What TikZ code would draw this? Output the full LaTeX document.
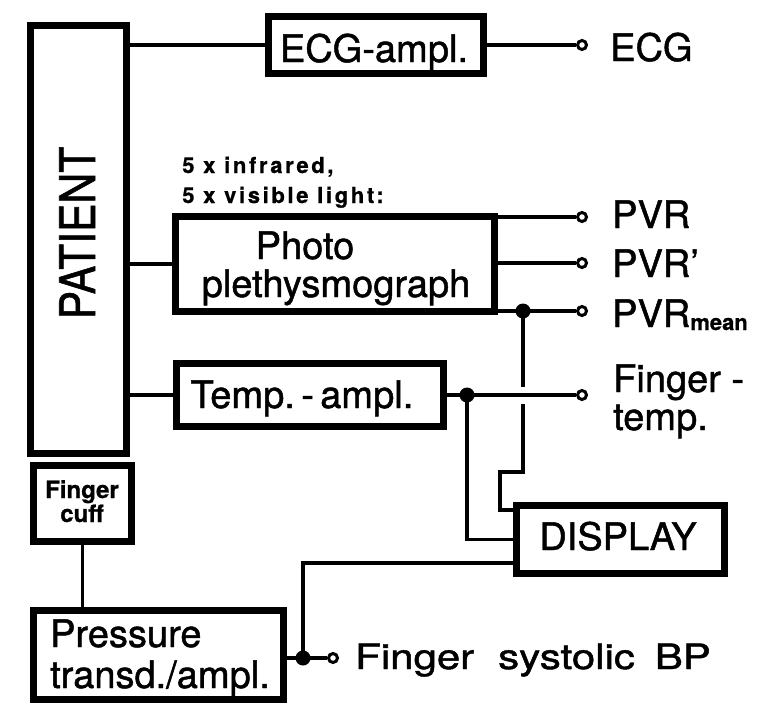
\documentclass[tikz,border=0pt]{standalone}
\usepackage{fontspec}
\setmainfont{TeX Gyre Heros}
\newfontfamily\medfont{TeX Gyre Heros}[FakeBold=1.2]
\newfontfamily\spacedbold{TeX Gyre Heros Bold}[LetterSpace=12,FakeBold=0.8]
\newfontfamily\heavybold{TeX Gyre Heros Bold}[FakeBold=0.8]
\begin{document}
\begin{tikzpicture}[x=1pt,y=-1pt,
  box/.style={draw, line width=7pt, rectangle, inner sep=0pt, outer sep=0pt},
  wire/.style={line width=3.4pt},
  term/.style={circle, draw, line width=3pt, fill=white, minimum size=9pt, inner sep=0pt},
  jdot/.style={circle, fill, minimum size=15pt, inner sep=0pt},
  big/.style={font=\fontsize{38}{40}\medfont, inner sep=0pt},
  small/.style={font=\fontsize{24}{26}\heavybold, inner sep=0pt}]
\useasboundingbox (0,0) rectangle (765,704);
% boxes
\node[box, minimum width=96pt, minimum height=428pt] (patient) at (78.5,239.5) {};
\node[box, minimum width=215pt, minimum height=57pt] (ecg) at (376,45) {};
\node[box, minimum width=319pt, minimum height=95pt] (photo) at (335,264) {};
\node[box, minimum width=267pt, minimum height=63pt] (temp) at (310,395) {};
\node[box, minimum width=98pt, minimum height=76pt] (cuff) at (82.5,503.5) {};
\node[box, minimum width=250pt, minimum height=89pt] (press) at (158.5,655) {};
\node[box, minimum width=208pt, minimum height=68pt] (display) at (620.5,539.5) {};
% box texts
\node[rotate=90, anchor=base, inner sep=0pt, font=\fontsize{49}{50}\medfont] (patientlbl) at (95,233) {\scalebox{0.87}[1]{PATIENT}};
\node[big, anchor=base] (ecgtxt) at (374,62) {ECG-ampl.};
\node[big, anchor=base] (photoA) at (305,259) {Photo};
\node[big, anchor=base] (photoB) at (336,297) {plethysmograph};
\node[big, anchor=base] (temptxt) at (302,408) {Temp.\,-\,ampl.};
\node[big, anchor=base] (disptxt) at (618,550) {DISPLAY};
\node[big, anchor=base west] (pressA) at (50,647) {Pressure};
\node[big, anchor=base west] (pressB) at (50,688) {transd./ampl.};
\node[small, anchor=base] (cuffA) at (82,498) {Finger};
\node[small, anchor=base] (cuffB) at (82,522) {cuff};
\node[anchor=base west, inner sep=0pt, font=\fontsize{22}{24}\spacedbold] (lightA) at (182,173) {5 x infrared,};
\node[anchor=base west, inner sep=0pt, font=\fontsize{22}{24}\spacedbold] (lightB) at (182,203) {5 x visible light:};
% output labels
\node[big, anchor=base west] (oECG) at (610,61) {ECG};
\node[big, anchor=base west] (oPVR) at (612,228) {PVR};
\node[big, anchor=base west] (oPVRd) at (612,277) {PVR’};
\node[big, anchor=base west] (oPVRm) at (612,327) {PVR\raisebox{-3pt}{\fontsize{22}{24}\heavybold mean}};
\node[big, anchor=base west] (oTempA) at (613,392) {Finger -};
\node[big, anchor=base west] (oTempB) at (613,430) {temp.};
\node[anchor=base west, inner sep=0pt, font=\fontsize{35}{37}\medfont] (oBP) at (355,669) {\scalebox{1.2}[1]{Finger}\hspace{24pt}\scalebox{1.2}[1]{systolic}\hspace{20pt}\scalebox{1.2}[1]{BP}};
% terminals and junctions
\node[term] (tECG) at (582,45) {};
\node[term] (tPVR) at (582,217) {};
\node[term] (tPVRd) at (582,263) {};
\node[term] (tPVRm) at (582,311) {};
\node[term] (tTemp) at (582,395) {};
\node[term] (tBP) at (333,658) {};
\node[jdot] (dPVR) at (523,311) {};
\node[jdot] (dTemp) at (467,395) {};
\node[jdot] (dBP) at (303,658) {};
\coordinate (g1) at (523,387);
\coordinate (g2) at (523,404);
\coordinate (g3) at (523,472);
\coordinate (g4) at (500,472);
\coordinate (g5) at (500,510);
\coordinate (g6) at (516.5,510);
\coordinate (g7) at (516.5,563);
% connectors
\draw[wire] (patient.east |- ecg.west) -- (ecg.west);
\draw[wire] (ecg.east) -- (tECG.west);
\draw[wire] (patient.east |- photo.west) -- (photo.west);
\draw[wire] (photo.east |- tPVR) -- (tPVR.west);
\draw[wire] (photo.east |- tPVRd) -- (tPVRd.west);
\draw[wire] (photo.east |- tPVRm) -- (tPVRm.west);
\draw[wire] (patient.east |- temp.west) -- (temp.west);
\draw[wire] (temp.east) -- (tTemp.west);
\draw[wire] (dPVR.center) -- (g1);
\draw[wire] (g2) -- (g3) -- (g4) -- (g5) -- (g6);
\draw[wire] (dTemp.center) |- (display.west);
\draw[wire] (g7) -| (dBP.center);
\draw[wire] (press.east |- dBP) -- (tBP.west);
\draw[wire] (cuff.south) -- (cuff.south |- press.north);
\end{tikzpicture}
\end{document}
